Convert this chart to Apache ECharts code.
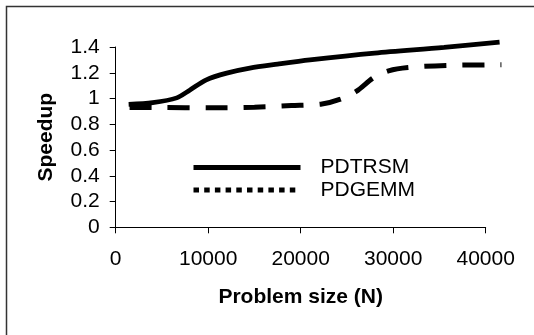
<!DOCTYPE html>
<html>
<head>
<meta charset="utf-8">
<script src="https://cdn.jsdelivr.net/npm/echarts@6/dist/echarts.min.js"></script>
<style>
  html, body { margin: 0; padding: 0; background: #fff; }
  #chart { width: 534px; height: 335px; }
</style>
</head>
<body>
<div id="chart"></div>
<script>
// values
const trsmN = [1400, 4000, 6600, 8000, 9800, 12000, 14500, 17500, 21000, 28000, 35500, 41500]
const trsmSpeedup = [0.955, 0.968, 1.005, 1.065, 1.145, 1.197, 1.236, 1.267, 1.3, 1.353, 1.397, 1.438]
const gemmN = [1500, 5000, 10000, 15000, 19000, 22300, 24300, 26000, 27900, 29500, 31600, 35800, 41700]
const gemmSpeedup = [0.93, 0.93, 0.928, 0.933, 0.945, 0.958, 0.995, 1.055, 1.163, 1.215, 1.241, 1.257, 1.262]
const seriesNames = ['PDTRSM', 'PDGEMM']

const font = 'Liberation Sans, Arial, sans-serif'
const chart = echarts.init(document.getElementById('chart'))

function pairs(xs, ys) {
  return xs.map((x, i) => [x, ys[i]])
}

const plotTop = 47, plotBottom = 107.7, plotLeft = 115.7

chart.setOption({
  animation: false,
  backgroundColor: '#fff',
  textStyle: { fontFamily: font, color: '#000' },
  graphic: [{
    type: 'rect',
    shape: { x: 6.5, y: 6.5, width: 600, height: 400 },
    style: { fill: 'none', stroke: '#333', lineWidth: 1.5 },
    silent: true
  }],
  // grid 0 carries the lines (a bit wider, the last points run past 40000),
  // grid 1 carries the visible axes
  grid: [
    { left: plotLeft, right: 29.8, top: plotTop, bottom: plotBottom },
    { left: plotLeft, right: 48.3, top: plotTop, bottom: plotBottom }
  ],
  legend: {
    orient: 'vertical',
    left: 186,
    top: 152,
    itemWidth: 107,
    itemHeight: 14,
    itemGap: 1.5,
    textStyle: { fontFamily: font, fontSize: 21, color: '#000', padding: [0, 0, 0, 15] },
    data: [
      { name: seriesNames[0], itemStyle: { opacity: 0 }, lineStyle: { width: 5, type: 'solid', color: '#000', opacity: 1 } },
      { name: seriesNames[1], itemStyle: { opacity: 0 }, lineStyle: { width: 5, type: [5.5, 5.2], color: '#000', opacity: 1 } }
    ]
  },
  xAxis: [
    { gridIndex: 0, type: 'value', min: 0, max: 42000, show: false },
    {
      gridIndex: 1,
      type: 'value',
      min: 0, max: 40000, interval: 10000,
      name: 'Problem size (N)',
      nameLocation: 'middle',
      nameGap: 59,
      nameTextStyle: { fontFamily: font, fontSize: 21, fontWeight: 'bold', color: '#000' },
      axisLine: { show: true, lineStyle: { color: '#000', width: 1 } },
      axisTick: { show: true, length: 6, lineStyle: { color: '#000' } },
      axisLabel: { fontFamily: font, fontSize: 21, color: '#000', margin: 21, formatter: v => String(v) },
      splitLine: { show: false }
    }
  ],
  yAxis: [
    { gridIndex: 0, type: 'value', min: 0, max: 1.4, show: false },
    {
      gridIndex: 1,
      type: 'value',
      min: 0, max: 1.4, interval: 0.2,
      name: 'Speedup',
      nameLocation: 'middle',
      nameGap: 59,
      nameTextStyle: { fontFamily: font, fontSize: 21, fontWeight: 'bold', color: '#000' },
      axisLine: { show: true, lineStyle: { color: '#000', width: 1 } },
      axisTick: { show: true, length: 6, lineStyle: { color: '#000' } },
      axisLabel: { fontFamily: font, fontSize: 21, color: '#000', margin: 16 },
      splitLine: { show: false }
    }
  ],
  series: [
    {
      name: seriesNames[0],
      type: 'line',
      xAxisIndex: 0, yAxisIndex: 0,
      data: pairs(trsmN, trsmSpeedup),
      smooth: 0.3,
      symbol: 'none',
      clip: false,
      lineStyle: { color: '#000', width: 4.7 }
    },
    {
      name: seriesNames[1],
      type: 'line',
      xAxisIndex: 0, yAxisIndex: 0,
      data: pairs(gemmN, gemmSpeedup),
      smooth: 0.3,
      symbol: 'none',
      clip: false,
      lineStyle: { color: '#000', width: 5, type: [22, 16] }
    }
  ]
})
</script>
</body>
</html>
